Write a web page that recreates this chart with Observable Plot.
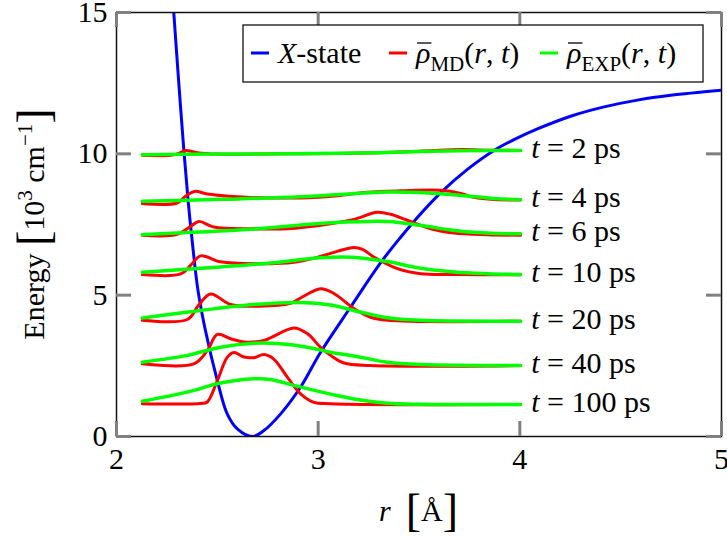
<!DOCTYPE html>
<html>
<head>
<meta charset="utf-8">
<script src="https://cdn.jsdelivr.net/npm/d3@7"></script>
<script src="https://cdn.jsdelivr.net/npm/@observablehq/plot@0.6"></script>
<style>
  body { margin: 0; background: #fff; }
  svg text, svg tspan { white-space: pre; }
</style>
</head>
<body>
<div id="chart"></div>
<script>
// Axis ticks
const xTicks = [2, 3, 4, 5];
const yTicks = [0, 5, 10, 15];

// Delay times (ps) of the snapshots, bottom curve last
const times = [2, 4, 6, 10, 20, 40, 100];

// X-state potential energy curve: [r (Å), E (10^3 cm^-1)]
const xState = [
  [2.284, 15.0], [2.309, 12.49], [2.334, 10.12], [2.355, 8.35], [2.375, 6.94],
  [2.404, 5.17], [2.441, 3.75], [2.500, 1.98], [2.549, 0.80], [2.599, 0.27],
  [2.675, 0.0], [2.731, 0.21], [2.814, 0.80], [2.913, 1.75], [3.012, 2.98],
  [3.161, 4.58], [3.310, 6.15], [3.409, 7.05], [3.492, 7.75], [3.607, 8.62],
  [3.740, 9.45], [3.872, 10.12], [3.971, 10.50], [4.087, 10.88], [4.252, 11.33],
  [4.418, 11.66], [4.583, 11.90], [4.748, 12.07], [5.0, 12.25]
];

// MD densities, each shifted to its own energy level
const md2 = [[2.128, 9.95], [2.27, 9.95], [2.31, 10.02], [2.342, 10.12], [2.40, 10.04], [2.5, 9.99],
  [2.8, 10.0], [3.1, 10.01], [3.3, 10.04], [3.5, 10.09], [3.6, 10.13], [3.72, 10.15], [3.85, 10.13], [4.004, 10.12]];
const md4 = [[2.128, 8.24], [2.30, 8.26], [2.342, 8.50], [2.387, 8.67], [2.45, 8.58], [2.60, 8.48], [2.913, 8.44],
  [3.111, 8.53], [3.244, 8.64], [3.409, 8.69], [3.607, 8.71], [3.707, 8.60], [3.773, 8.46], [3.872, 8.38], [4.004, 8.37]];
const md6 = [[2.128, 7.12], [2.30, 7.15], [2.367, 7.43], [2.408, 7.61], [2.483, 7.41], [2.681, 7.35], [2.847, 7.35],
  [3.062, 7.53], [3.177, 7.68], [3.293, 7.93], [3.359, 7.86], [3.442, 7.65], [3.558, 7.35], [3.674, 7.20],
  [3.839, 7.14], [4.004, 7.12]];
const md10 = [[2.128, 5.73], [2.318, 5.75], [2.367, 6.05], [2.417, 6.39], [2.516, 6.18], [2.681, 6.11], [2.880, 6.16],
  [3.012, 6.37], [3.095, 6.55], [3.177, 6.69], [3.220, 6.62], [3.276, 6.35], [3.393, 5.94], [3.508, 5.76],
  [3.674, 5.73], [4.004, 5.72]];
const md20 = [[2.128, 4.11], [2.351, 4.14], [2.407, 4.64], [2.466, 5.04], [2.566, 4.67], [2.705, 4.61], [2.863, 4.71],
  [2.913, 4.90], [3.012, 5.23], [3.078, 5.06], [3.177, 4.53], [3.260, 4.22], [3.343, 4.11], [4.004, 4.08]];
const md40 = [[2.128, 2.57], [2.383, 2.57], [2.450, 3.04], [2.500, 3.61], [2.566, 3.46], [2.632, 3.34], [2.731, 3.40],
  [2.880, 3.84], [2.946, 3.64], [3.012, 3.15], [3.062, 2.87], [3.128, 2.60], [3.260, 2.51], [4.004, 2.51]];
const md100 = [[2.128, 1.16], [2.417, 1.17], [2.450, 1.22], [2.500, 1.98], [2.549, 2.80], [2.582, 2.97], [2.632, 2.81],
  [2.681, 2.79], [2.731, 2.90], [2.780, 2.74], [2.847, 2.10], [2.913, 1.51], [2.979, 1.21], [3.062, 1.16], [4.004, 1.13]];

// Densities from the experiment, same shifts
const exp2 = [[2.128, 9.97], [2.5, 9.99], [3.0, 10.01], [3.3, 10.04], [3.5, 10.08], [3.7, 10.11], [4.004, 10.12]];
const exp4 = [[2.128, 8.32], [2.516, 8.39], [2.913, 8.48], [3.343, 8.65], [3.508, 8.63], [3.707, 8.53], [3.87, 8.42], [4.004, 8.38]];
const exp6 = [[2.128, 7.14], [2.665, 7.33], [3.062, 7.56], [3.343, 7.61], [3.508, 7.47], [3.674, 7.29], [3.839, 7.20], [4.004, 7.17]];
const exp10 = [[2.128, 5.81], [2.516, 6.00], [2.764, 6.14], [3.012, 6.32], [3.161, 6.34], [3.343, 6.19], [3.508, 5.95],
  [3.674, 5.82], [3.839, 5.76], [4.004, 5.73]];
const exp20 = [[2.128, 4.19], [2.417, 4.46], [2.681, 4.67], [2.913, 4.74], [3.062, 4.65], [3.177, 4.46], [3.343, 4.20],
  [3.508, 4.11], [4.004, 4.08]];
const exp40 = [[2.128, 2.63], [2.351, 2.87], [2.516, 3.16], [2.681, 3.30], [2.814, 3.28], [2.946, 3.16], [3.062, 2.98],
  [3.177, 2.85], [3.343, 2.63], [3.508, 2.55], [4.004, 2.51]];
const exp100 = [[2.128, 1.25], [2.351, 1.57], [2.516, 1.89], [2.681, 2.04], [2.764, 2.02], [2.880, 1.81], [3.062, 1.50],
  [3.177, 1.33], [3.343, 1.18], [3.508, 1.14], [4.004, 1.13]];

const mdCurves = [md2, md4, md6, md10, md20, md40, md100];
const expCurves = [exp2, exp4, exp6, exp10, exp20, exp40, exp100];

const BLUE = "#0000ff", RED = "#ff0000", GREEN = "#00ff00", TICK = "#808080";
const FONT = "Liberation Serif";
const FS = 30;

const toRows = (arr, t) => arr.map(([r, E]) => ({r, E, t}));
const potentialRows = toRows(xState, "X");
const mdRows = times.flatMap((t, i) => toRows(mdCurves[i], t));
const expRows = times.flatMap((t, i) => toRows(expCurves[i], t));

const width = 727, height = 539;
const margin = {left: 116, right: 6, top: 12, bottom: 103};
const frameW = width - margin.left - margin.right;
const frameH = height - margin.top - margin.bottom;
const tickLen = 15;

const plot = Plot.plot({
  width, height,
  marginLeft: margin.left, marginRight: margin.right,
  marginTop: margin.top, marginBottom: margin.bottom,
  x: {domain: [2, 5], axis: null},
  y: {domain: [0, 15], axis: null},
  style: {fontFamily: FONT, fontSize: FS + "px", background: "white", color: "black"},
  marks: [
    Plot.line(potentialRows, {x: "r", y: "E", stroke: BLUE, strokeWidth: 3, curve: "catmull-rom", clip: true}),
    Plot.line(mdRows, {x: "r", y: "E", z: "t", stroke: RED, strokeWidth: 3, curve: "catmull-rom"}),
    Plot.line(expRows, {x: "r", y: "E", z: "t", stroke: GREEN, strokeWidth: 3.5, curve: "catmull-rom"}),
    Plot.frame({stroke: "#111", strokeWidth: 1.5}),
    // inward ticks on all four sides
    Plot.tickX(xTicks, {x: d => d, insetTop: frameH - tickLen, stroke: TICK, strokeWidth: 3}),
    Plot.tickX(xTicks, {x: d => d, insetBottom: frameH - tickLen, stroke: TICK, strokeWidth: 3}),
    Plot.tickY(yTicks, {y: d => d, insetRight: frameW - tickLen, stroke: TICK, strokeWidth: 3}),
    Plot.tickY(yTicks, {y: d => d, insetLeft: frameW - tickLen, stroke: TICK, strokeWidth: 3}),
    // tick labels
    Plot.text(xTicks, {x: d => d, frameAnchor: "bottom", lineAnchor: "top", dy: 11,
      fontSize: FS, fontFamily: FONT, fill: "black"}),
    Plot.text(yTicks, {y: d => d, frameAnchor: "left", textAnchor: "end", dx: -9,
      fontSize: FS, fontFamily: FONT, fill: "black"})
  ]
});

document.getElementById("chart").appendChild(plot);

// scale helpers
function scaleFn(name) {
  const s = plot.scale(name);
  return s.apply ? (v) => s.apply(v) : d3.scaleLinear(s.domain, s.range);
}
const sx = scaleFn("x"), sy = scaleFn("y");

// rich text: parts = [{t, italic, size, shift}] where shift is a baseline offset in px
function richText(parent, x, y, parts, opts = {}) {
  const text = parent.append("text")
    .attr("x", x).attr("y", y)
    .attr("font-family", FONT)
    .attr("font-size", FS)
    .attr("fill", "black")
    .attr("text-anchor", opts.anchor || "start");
  if (opts.transform) text.attr("transform", opts.transform);
  let prev = 0;
  for (const p of parts) {
    const shift = p.shift || 0;
    const ts = text.append("tspan").text(p.t);
    if (p.italic) ts.attr("font-style", "italic");
    if (p.size) ts.attr("font-size", p.size);
    if (shift !== prev) ts.attr("dy", shift - prev);
    if (p.dx) ts.attr("dx", p.dx);
    prev = shift;
  }
  return text;
}

const svg = d3.select(plot);

// time labels at the right end of each curve pair
const labelLayer = svg.append("g");
times.forEach((t, i) => {
  const last = expCurves[i][expCurves[i].length - 1];
  richText(labelLayer, sx(last[0]) + 11, sy(last[1]) + 8, [
    {t: "t", italic: true},
    {t: " = "},
    {t: String(t)},
    {t: " ps"}
  ]);
});

// axis titles
richText(svg, (margin.left + width - margin.right) / 2, 521, [
  {t: "r", italic: true},
  {t: "  "},
  {t: "[", size: 46, shift: 5},
  {t: "Å", shift: 0},
  {t: "]", size: 46, shift: 5}
], {anchor: "middle"});

richText(svg, 0, 0, [
  {t: "Energy "},
  {t: "[", size: 46, shift: 5},
  {t: "10", shift: 0},
  {t: "3", size: 21, shift: -12},
  {t: " cm", shift: 0},
  {t: "−1", size: 21, shift: -12},
  {t: "]", size: 46, shift: 5}
], {anchor: "middle", transform: `translate(44,${(margin.top + height - margin.bottom) / 2}) rotate(-90)`});

// legend
const lg = svg.append("g");
lg.append("rect")
  .attr("x", 243).attr("y", 25).attr("width", 460).attr("height", 57)
  .attr("fill", "white").attr("stroke", "#111").attr("stroke-width", 1.3);
const legendItems = [
  {color: BLUE, x: 251, bar: false, parts: [{t: "X", italic: true}, {t: "-state"}]},
  {color: RED, x: 389, bar: true, parts: [{t: "ρ", italic: true}, {t: "MD", size: 21, shift: 8}, {t: "(", shift: 0},
    {t: "r", italic: true}, {t: ", "}, {t: "t", italic: true}, {t: ")"}]},
  {color: GREEN, x: 540, bar: true, parts: [{t: "ρ", italic: true}, {t: "EXP", size: 21, shift: 8}, {t: "(", shift: 0},
    {t: "r", italic: true}, {t: ", "}, {t: "t", italic: true}, {t: ")"}]}
];
legendItems.forEach(item => {
  lg.append("line")
    .attr("x1", item.x).attr("x2", item.x + 18)
    .attr("y1", 53).attr("y2", 53)
    .attr("stroke", item.color).attr("stroke-width", 3);
  const txt = richText(lg, item.x + 27, 63, item.parts);
  if (item.bar) {
    // mean bar over the rho
    const ext = txt.node().getExtentOfChar(0);
    lg.append("line")
      .attr("x1", ext.x + 1).attr("x2", ext.x + ext.width + 1)
      .attr("y1", 43).attr("y2", 43)
      .attr("stroke", "black").attr("stroke-width", 1.3);
  }
});
</script>
</body>
</html>
